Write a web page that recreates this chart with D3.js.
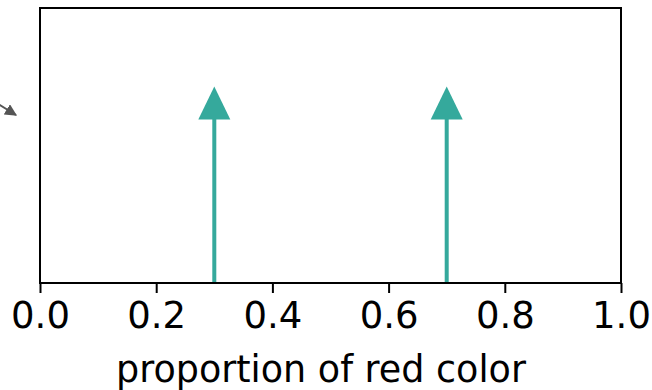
<!DOCTYPE html>
<html><head><meta charset="utf-8">
<script src="https://cdn.jsdelivr.net/npm/d3@7"></script>
<style>body{margin:0;background:#fff}svg{display:block}</style>
</head><body>
<svg id="c" width="652" height="390"></svg>
<script>
const positions = [0.3, 0.7];
const heights = [1, 1];
const xTicks = [0, 0.2, 0.4, 0.6, 0.8, 1.0];
const xLabel = "proportion of red color";
const yMax = 1.4;

const svg = d3.select("#c");
const m = {left: 40, right: 621, top: 8, bottom: 283};
const x = d3.scaleLinear().domain([0, 1]).range([m.left, m.right]);
const y = d3.scaleLinear().domain([0, yMax]).range([m.bottom, m.top]);
const teal = "#35a99c";
const font = "DejaVu Sans";

// stems
const headH = 33, headW = 32;
positions.forEach((p, i) => {
  const tipY = y(heights[i]);
  svg.append("line").attr("x1", x(p)).attr("x2", x(p))
    .attr("y1", y(0)).attr("y2", tipY + headH - 1)
    .attr("stroke", teal).attr("stroke-width", 4);
  svg.append("path")
    .attr("d", `M${x(p)},${tipY} L${x(p) + headW/2},${tipY + headH} L${x(p) - headW/2},${tipY + headH} Z`)
    .attr("fill", teal);
});

// frame
svg.append("rect").attr("x", m.left).attr("y", m.top)
  .attr("width", m.right - m.left).attr("height", m.bottom - m.top)
  .attr("fill", "none").attr("stroke", "#000").attr("stroke-width", 2);

// x axis
const ax = svg.append("g").attr("transform", `translate(0,${m.bottom})`)
  .call(d3.axisBottom(x).tickValues(xTicks).tickFormat(d3.format(".1f")).tickSize(10).tickPadding(9));
ax.select(".domain").remove();
ax.selectAll(".tick line").attr("stroke", "#000").attr("stroke-width", 2);
ax.selectAll(".tick text").attr("font-family", font).attr("font-size", 37).attr("fill", "#000");

svg.append("text").attr("x", 321).attr("y", 382)
  .attr("text-anchor", "middle").attr("font-family", font).attr("font-size", 36.5)
  .attr("fill", "#000").text(xLabel);

// gray annotation arrow coming from outside at left
const defs = svg.append("defs");
defs.append("marker").attr("id", "ah").attr("viewBox", "0 0 10 10")
  .attr("refX", 9).attr("refY", 5).attr("markerWidth", 6).attr("markerHeight", 6)
  .attr("orient", "auto").attr("markerUnits", "strokeWidth")
  .append("path").attr("d", "M0,0 L10,5 L0,10 Z").attr("fill", "#555");
svg.append("line").attr("x1", -10).attr("y1", 99).attr("x2", 16).attr("y2", 115)
  .attr("stroke", "#555").attr("stroke-width", 2).attr("marker-end", "url(#ah)");
</script>
</body></html>
